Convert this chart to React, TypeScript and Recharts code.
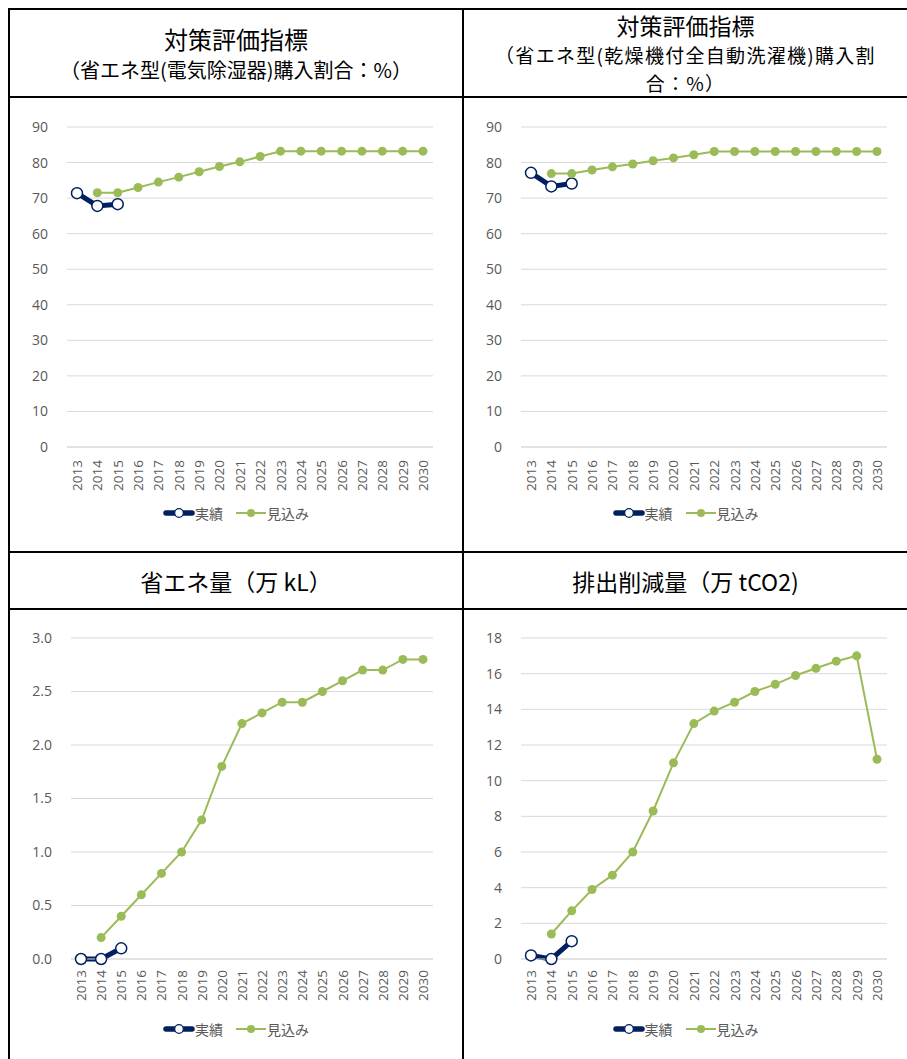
import React from "react";
import { LineChart, Line, XAxis, YAxis, CartesianGrid, Legend } from "recharts";

const YEARS = [
  "2013", "2014", "2015", "2016", "2017", "2018", "2019", "2020", "2021",
  "2022", "2023", "2024", "2025", "2026", "2027", "2028", "2029", "2030",
];

// 電気除湿器 購入割合 (%)
const dehumActual = [71.4, 67.8, 68.3, null, null, null, null, null, null, null, null, null, null, null, null, null, null, null];
const dehumPlan = [null, 71.5, 71.5, 73.0, 74.5, 75.9, 77.4, 78.9, 80.2, 81.7, 83.2, 83.2, 83.2, 83.2, 83.2, 83.2, 83.2, 83.2];

// 乾燥機付全自動洗濯機 購入割合 (%)
const washerActual = [77.1, 73.3, 74.1, null, null, null, null, null, null, null, null, null, null, null, null, null, null, null];
const washerPlan = [null, 76.9, 76.9, 77.9, 78.8, 79.6, 80.5, 81.3, 82.2, 83.1, 83.1, 83.1, 83.1, 83.1, 83.1, 83.1, 83.1, 83.1];

// 省エネ量 (万kL)
const savingActual = [0, 0, 0.1, null, null, null, null, null, null, null, null, null, null, null, null, null, null, null];
const savingPlan = [null, 0.2, 0.4, 0.6, 0.8, 1.0, 1.3, 1.8, 2.2, 2.3, 2.4, 2.4, 2.5, 2.6, 2.7, 2.7, 2.8, 2.8];

// 排出削減量 (万tCO2)
const co2Actual = [0.2, 0, 1.0, null, null, null, null, null, null, null, null, null, null, null, null, null, null, null];
const co2Plan = [null, 1.4, 2.7, 3.9, 4.7, 6.0, 8.3, 11.0, 13.2, 13.9, 14.4, 15.0, 15.4, 15.9, 16.3, 16.7, 17.0, 11.2];

const PCT_TICKS = [0, 10, 20, 30, 40, 50, 60, 70, 80, 90];
const KL_TICKS = [0, 0.5, 1.0, 1.5, 2.0, 2.5, 3.0];
const CO2_TICKS = [0, 2, 4, 6, 8, 10, 12, 14, 16, 18];

const NAVY = "#002060";
const GREEN = "#9BBB59";
const GRAY_TEXT = "#595959";
const GRID = "#D9D9D9";
const FONT = "'Open Sans', 'Noto Sans CJK JP', sans-serif";
const TITLE_FONT = "'Noto Sans CJK JP', sans-serif";

function YearTick(props: any) {
  const { x, y, payload, gap } = props;
  return (
    <text
      x={0}
      y={0}
      transform={`translate(${x},${y + gap}) rotate(-90)`}
      textAnchor="end"
      dominantBaseline="central"
      fill={GRAY_TEXT}
      fontSize={13.5}
      fontFamily={FONT}
    >
      {payload.value}
    </text>
  );
}

function LegendContent() {
  return (
    <div
      style={{
        display: "flex",
        justifyContent: "center",
        alignItems: "center",
        height: 20,
        fontFamily: FONT,
        fontSize: 14,
        color: GRAY_TEXT,
      }}
    >
      <svg width={32} height={12}>
        <line x1={3} y1={6} x2={29} y2={6} stroke={NAVY} strokeWidth={5.5} strokeLinecap="round" />
        <circle cx={16} cy={6} r={4.3} fill="#fff" stroke={NAVY} strokeWidth={1.2} />
      </svg>
      <span>実績</span>
      <svg width={32} height={12} style={{ marginLeft: 12 }}>
        <line x1={1} y1={6} x2={31} y2={6} stroke={GREEN} strokeWidth={2} />
        <circle cx={16} cy={6} r={4} fill={GREEN} />
      </svg>
      <span>見込み</span>
    </div>
  );
}

interface PanelProps {
  left: number;
  top: number;
  width: number;
  height: number;
  actual: (number | null)[];
  plan: (number | null)[];
  ticks: number[];
  fmt?: (v: number) => string;
  yWidth: number;
  mTop: number;
  mRight: number;
  mBottom: number;
  xHeight: number;
  gap: number;
}

function Panel(p: PanelProps) {
  const data = YEARS.map((year, i) => ({ year, actual: p.actual[i], plan: p.plan[i] }));
  return (
    <div style={{ position: "absolute", left: p.left, top: p.top }}>
      <LineChart
        width={p.width}
        height={p.height}
        data={data}
        margin={{ top: p.mTop, right: p.mRight, left: 0, bottom: p.mBottom }}
      >
        <CartesianGrid vertical={false} stroke={GRID} />
        <XAxis
          dataKey="year"
          height={p.xHeight}
          padding={{ left: 10, right: 10 }}
          axisLine={{ stroke: GRID }}
          tickLine={false}
          tickSize={0}
          tickMargin={0}
          interval={0}
          tick={<YearTick gap={p.gap} />}
        />
        <YAxis
          width={p.yWidth}
          domain={[p.ticks[0], p.ticks[p.ticks.length - 1]]}
          ticks={p.ticks}
          interval={0}
          axisLine={false}
          tickLine={false}
          tickSize={0}
          tickMargin={19}
          tick={{ fill: GRAY_TEXT, fontSize: 14, fontFamily: FONT }}
          tickFormatter={p.fmt}
        />
        <Legend
          verticalAlign="bottom"
          content={<LegendContent />}
          wrapperStyle={{ left: 0, width: p.width, height: 20 }}
        />
        <Line
          dataKey="actual"
          name="実績"
          stroke={NAVY}
          strokeWidth={5}
          dot={{ r: 5.5, fill: "#fff", stroke: NAVY, strokeWidth: 1.5 }}
          activeDot={false}
          isAnimationActive={false}
        />
        <Line
          dataKey="plan"
          name="見込み"
          stroke={GREEN}
          strokeWidth={2}
          dot={{ r: 4.5, fill: GREEN, stroke: GREEN, strokeWidth: 0 }}
          activeDot={false}
          isAnimationActive={false}
        />
      </LineChart>
    </div>
  );
}

function Rule({ x, y, w, h }: { x: number; y: number; w: number; h: number }) {
  return <div style={{ position: "absolute", left: x, top: y, width: w, height: h, background: "#000" }} />;
}

function TitleLine({ text, left, width, center, size, lh, spacing = 0 }: { text: string; left: number; width: number; center: number; size: number; lh: number; spacing?: number }) {
  return (
    <div
      style={{
        position: "absolute",
        left,
        width,
        top: center - lh / 2,
        height: lh,
        lineHeight: `${lh}px`,
        fontSize: size,
        letterSpacing: spacing,
        fontFamily: TITLE_FONT,
        color: "#000",
        textAlign: "center",
        whiteSpace: "nowrap",
      }}
    >
      {text}
    </div>
  );
}

export default function App() {
  return (
    <div style={{ position: "absolute", left: 0, top: 0, width: 907, height: 1059, overflow: "hidden", background: "#fff" }}>
      <TitleLine text="対策評価指標" left={10} width={452} center={38.5} size={24} lh={30} />
      <TitleLine text="（省エネ型(電気除湿器)購入割合：%）" left={10} width={452} center={70} size={20} lh={26} />
      <TitleLine text="対策評価指標" left={464} width={443} center={25} size={23} lh={28} />
      <TitleLine text="（省エネ型(乾燥機付全自動洗濯機)購入割" left={464} width={443} center={55} size={19} lh={26} spacing={1.3} />
      <TitleLine text="合：%）" left={464} width={443} center={83} size={19} lh={26} spacing={1.3} />
      <TitleLine text="省エネ量（万 kL）" left={10} width={452} center={580.5} size={23} lh={30} />
      <TitleLine text="排出削減量（万 tCO2)" left={464} width={443} center={581} size={23} lh={30} />

      <Panel left={10} top={98} width={452} height={453} actual={dehumActual} plan={dehumPlan} ticks={PCT_TICKS}
        yWidth={57} mTop={29} mRight={29} mBottom={28} xHeight={56} gap={13} />
      <Panel left={464} top={98} width={443} height={453} actual={washerActual} plan={washerPlan} ticks={PCT_TICKS}
        yWidth={57} mTop={29} mRight={20} mBottom={28} xHeight={56} gap={13} />
      <Panel left={10} top={610} width={452} height={449} actual={savingActual} plan={savingPlan} ticks={KL_TICKS}
        fmt={(v: number) => v.toFixed(1)}
        yWidth={61} mTop={28} mRight={29} mBottom={20} xHeight={60} gap={11} />
      <Panel left={464} top={610} width={443} height={449} actual={co2Actual} plan={co2Plan} ticks={CO2_TICKS}
        yWidth={57} mTop={28} mRight={20} mBottom={20} xHeight={60} gap={11} />

      <Rule x={8} y={8} w={899} h={2} />
      <Rule x={8} y={96} w={899} h={2} />
      <Rule x={8} y={551} w={899} h={2} />
      <Rule x={8} y={608} w={899} h={2} />
      <Rule x={8} y={8} w={2} h={1051} />
      <Rule x={462} y={8} w={2} h={1051} />
    </div>
  );
}
